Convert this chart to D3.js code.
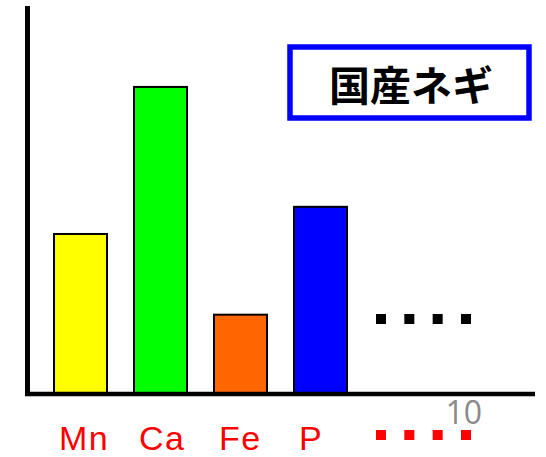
<!DOCTYPE html>
<html>
<head>
<meta charset="utf-8">
<script src="https://cdn.jsdelivr.net/npm/d3@7/dist/d3.min.js"></script>
<style>
  html, body { margin: 0; padding: 0; background: #fff; }
  svg { display: block; }
</style>
</head>
<body>
<script>
// Mineral content of domestic green onion (relative units)
const categories = ["Mn", "Ca", "Fe", "P"];
const values = [41.5, 79.4, 20.7, 48.5];
const barColors = ["#ffff00", "#00ff00", "#ff6600", "#0000ff"];
const titleText = "国産ネギ";
const pageNumber = "10";
const moreMarks = [0, 1, 2, 3]; // "…" placeholders for further elements

const W = 546, H = 457;
const svg = d3.select("body").append("svg").attr("width", W).attr("height", H);

const x = d3.scaleBand().domain(categories).range([53, 348]).paddingInner(0.3125).paddingOuter(0);
const y = d3.scaleLinear().domain([0, 100]).range([394, 6]);
const dots = d3.scalePoint().domain(moreMarks).range([381, 466]);

// bars
svg.selectAll("rect.bar").data(categories).join("rect")
  .attr("class", "bar")
  .attr("x", d => x(d) + 1)
  .attr("y", (d, i) => y(values[i]) + 1)
  .attr("width", x.bandwidth() - 2)
  .attr("height", (d, i) => y(0) - y(values[i]) - 1)
  .attr("fill", (d, i) => barColors[i])
  .attr("stroke", "#000")
  .attr("stroke-width", 2);

// axes
svg.append("line").attr("x1", 27.5).attr("x2", 27.5).attr("y1", y.range()[1]).attr("y2", 396)
  .attr("stroke", "#000").attr("stroke-width", 5);
svg.append("line").attr("x1", 25).attr("x2", 535).attr("y1", 394).attr("y2", 394)
  .attr("stroke", "#000").attr("stroke-width", 4.5);

// category labels
svg.selectAll("text.cat").data(categories).join("text")
  .attr("class", "cat")
  .attr("x", d => x(d) + 6)
  .attr("y", 450)
  .attr("fill", "#ff0000")
  .attr("font-family", "'Liberation Sans', Arial, sans-serif")
  .attr("font-size", 34)
  .attr("letter-spacing", 1.5)
  .text(d => d);

// continuation dots
svg.selectAll("rect.dot-k").data(moreMarks).join("rect")
  .attr("class", "dot-k")
  .attr("x", d => dots(d) - 5).attr("y", 314).attr("width", 10).attr("height", 10)
  .attr("fill", "#000");
svg.selectAll("rect.dot-r").data(moreMarks).join("rect")
  .attr("class", "dot-r")
  .attr("x", d => dots(d) - 5).attr("y", 430).attr("width", 10).attr("height", 10)
  .attr("fill", "#ff0000");

// page number
svg.append("text")
  .attr("x", 482).attr("y", 424)
  .attr("text-anchor", "end")
  .attr("fill", "#8a8a8a")
  .attr("font-family", "'Open Sans', 'Liberation Sans', sans-serif")
  .attr("font-size", 32)
  .text(pageNumber);

// title box
svg.append("rect")
  .attr("x", 290).attr("y", 47).attr("width", 239).attr("height", 71)
  .attr("fill", "#fff").attr("stroke", "#0000ff").attr("stroke-width", 5.5);
svg.append("text")
  .attr("x", 411).attr("y", 83)
  .attr("text-anchor", "middle").attr("dominant-baseline", "central")
  .attr("font-family", "'Noto Sans CJK JP', sans-serif")
  .attr("font-weight", "bold")
  .attr("font-size", 41)
  .attr("fill", "#000")
  .text(titleText);
</script>
</body>
</html>
